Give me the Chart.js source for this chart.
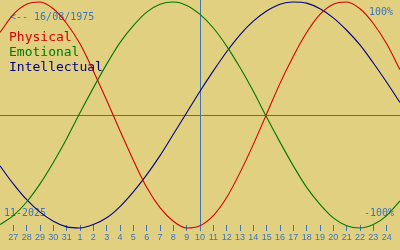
<!DOCTYPE html>
<html>
<head>
<meta charset="utf-8">
<script src="https://cdn.jsdelivr.net/npm/chart.js@4"></script>
<style>
  body { margin: 0; background: #e0d080; }
  #wrap { width: 400px; height: 250px; }
</style>
</head>
<body>
<div id="wrap"><canvas id="bioChart" width="400" height="250"></canvas></div>
<script>
// Day of month for each point (26 Oct .. 25 Nov)
const dayLabels = ['26', '27', '28', '29', '30', '31', '1', '2', '3', '4', '5', '6', '7', '8', '9',
  '10', '11', '12', '13', '14', '15', '16', '17', '18', '19', '20', '21', '22', '23', '24', '25'];

// Cycle values (-1 .. 1)
const physical = [0.73, 0.89, 0.98, 1.00, 0.94, 0.81, 0.63, 0.39, 0.13, -0.14, -0.40, -0.64, -0.82, -0.94, -1.00,
  -0.98, -0.89, -0.73, -0.51, -0.26, 0.01, 0.28, 0.52, 0.73, 0.89, 0.98, 1.00, 0.94, 0.81, 0.63, 0.40];
const emotional = [-0.97, -0.89, -0.77, -0.61, -0.42, -0.21, 0.02, 0.24, 0.45, 0.64, 0.79, 0.91, 0.98, 1.00, 0.97,
  0.89, 0.77, 0.61, 0.42, 0.21, -0.02, -0.24, -0.45, -0.64, -0.79, -0.91, -0.98, -1.00, -0.97, -0.89, -0.76];
const intellectual = [-0.45, -0.61, -0.75, -0.86, -0.94, -0.99, -1.00, -0.97, -0.91, -0.81, -0.68, -0.53, -0.36, -0.17, 0.02,
  0.21, 0.39, 0.56, 0.71, 0.83, 0.92, 0.98, 1.00, 0.99, 0.94, 0.86, 0.75, 0.62, 0.46, 0.29, 0.11];

const seriesNames = ['Physical', 'Emotional', 'Intellectual'];
const seriesColors = ['#d40000', '#007800', '#000080'];
const todayIndex = 15; // 10th
const birthText = '<-- 16/08/1975';
const monthText = '11-2025';

const axisBlue = '#3c74bc';

const toPoints = arr => arr.map((v, i) => ({ x: i, y: v }));

// center lines, texts
const overlay = {
  id: 'overlay',
  beforeDatasetsDraw(chart) {
    const ctx = chart.ctx;
    const xs = chart.scales.x, ys = chart.scales.y;
    const area = chart.chartArea;
    ctx.save();
    ctx.strokeStyle = axisBlue;
    ctx.lineWidth = 1;
    const y0 = Math.round(ys.getPixelForValue(0)) + 0.5;
    ctx.beginPath();
    ctx.moveTo(area.left, y0);
    ctx.lineTo(area.right, y0);
    ctx.stroke();
    const xt = Math.round(xs.getPixelForValue(todayIndex)) + 0.5;
    ctx.beginPath();
    ctx.moveTo(xt, 0);
    ctx.lineTo(xt, area.bottom);
    ctx.stroke();

    ctx.textBaseline = 'middle';
    ctx.font = '10px "DejaVu Sans Mono"';
    ctx.fillStyle = axisBlue;
    ctx.textAlign = 'left';
    ctx.fillText(birthText, 10, 17);
    ctx.fillText(monthText, 4, 213);
    ctx.textAlign = 'right';
    ctx.fillText('100%', 393, 12);
    ctx.fillText('-100%', 394, 213);

    ctx.textAlign = 'left';
    ctx.font = '13px "DejaVu Sans Mono"';
    seriesNames.forEach((name, i) => {
      ctx.fillStyle = seriesColors[i];
      ctx.fillText(name, 9, 38 + i * 15);
    });
    ctx.restore();
  }
};

const makeSet = (data, i) => ({
  label: seriesNames[i],
  data: toPoints(data),
  borderColor: seriesColors[i],
  borderWidth: 1.1,
  pointRadius: 0,
  cubicInterpolationMode: 'monotone',
  clip: false
});

new Chart(document.getElementById('bioChart'), {
  type: 'line',
  data: {
    datasets: [makeSet(physical, 0), makeSet(emotional, 1), makeSet(intellectual, 2)]
  },
  options: {
    responsive: false,
    animation: false,
    layout: { padding: { top: 2, left: 0, right: 0, bottom: 0 } },
    plugins: { legend: { display: false }, tooltip: { enabled: false } },
    scales: {
      x: {
        type: 'linear',
        min: 0,
        max: dayLabels.length - 1,
        border: { display: false },
        grid: { drawOnChartArea: false, drawTicks: true, tickLength: 6, color: axisBlue },
        ticks: {
          stepSize: 1,
          autoSkip: false,
          maxRotation: 0,
          padding: 1,
          color: axisBlue,
          font: { family: 'Liberation Sans', size: 9 },
          callback: v => dayLabels[v]
        },
        afterBuildTicks: s => { s.ticks = s.ticks.filter(t => t.value >= 1 && t.value <= dayLabels.length - 2); },
        afterFit: s => { s.height = 25; }
      },
      y: {
        display: false,
        min: -0.9735,
        max: 1
      }
    }
  },
  plugins: [overlay]
});
</script>
</body>
</html>
